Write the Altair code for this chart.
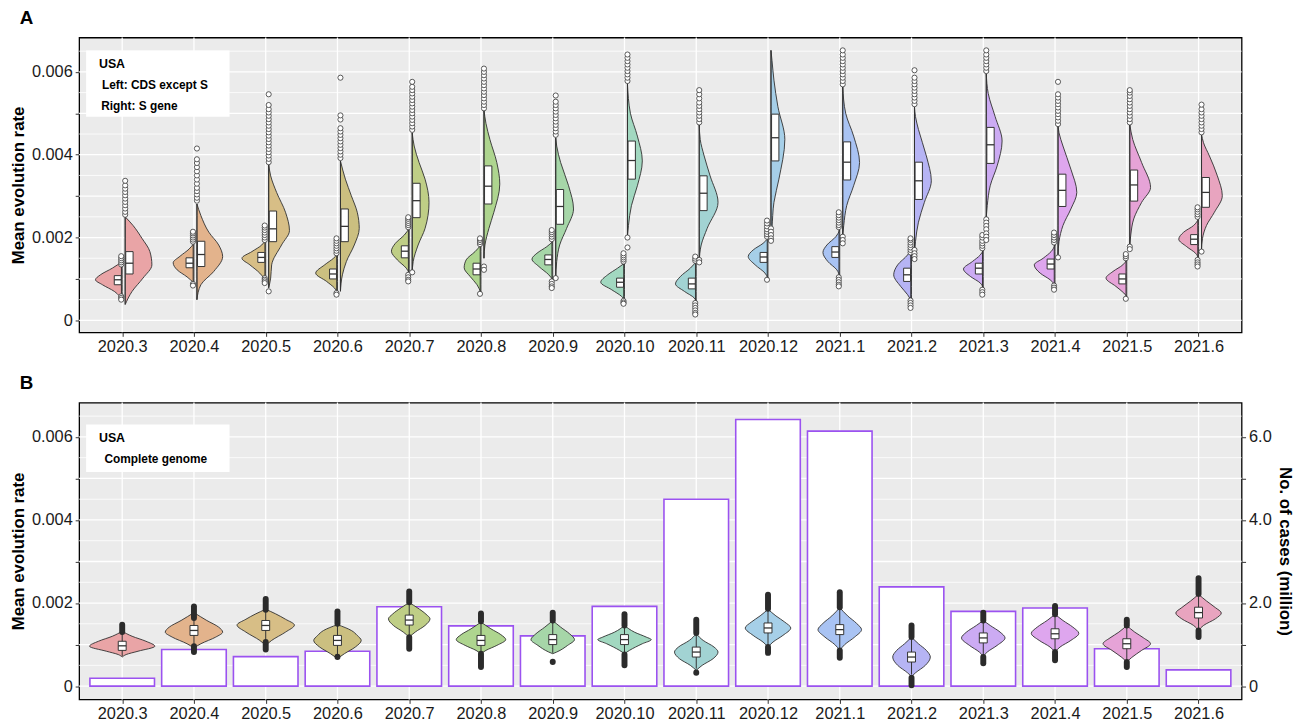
import altair as alt
import pandas as pd

FONT = "Liberation Sans"

MONTHS = ["2020.3", "2020.4", "2020.5", "2020.6", "2020.7", "2020.8", "2020.9", "2020.10",
          "2020.11", "2020.12", "2021.1", "2021.2", "2021.3", "2021.4", "2021.5", "2021.6"]

FILLS = ["#E9A4A6", "#E3B38C", "#D7BE86", "#CBBF80", "#BFCE86", "#AED58F", "#A6D6A8", "#A2D8C0",
         "#A2D3D3", "#A6CFE8", "#A9C3F3", "#B6B4F4", "#CCABF3", "#DEA6EE", "#E6A3D7", "#E8A4BF"]

# Monthly cases, millions
CASES_MILLION = [0.19, 0.88, 0.71, 0.84, 1.91, 1.45, 1.21, 1.92,
                 4.50, 6.42, 6.14, 2.39, 1.80, 1.88, 0.90, 0.39]

# Violin outlines: (rate x 1e-3, kernel density) from low to high rate
CDS_OUTLINE = [
    [(0.50, 0), (0.70, 8), (0.86, 20), (0.98, 27), (1.10, 22), (1.26, 10), (1.42, 0)],
    [(0.90, 0), (1.05, 7), (1.22, 17), (1.39, 21), (1.55, 14), (1.72, 5), (1.86, 0)],
    [(0.94, 0), (1.14, 6), (1.34, 16), (1.50, 24), (1.66, 14), (1.82, 4), (2.00, 0)],
    [(0.68, 0), (0.78, 3), (0.94, 11), (1.14, 22), (1.34, 13), (1.50, 4), (1.60, 0)],
    [(1.14, 0), (1.26, 3), (1.46, 12), (1.67, 18), (1.86, 14), (2.06, 5), (2.22, 0)],
    [(0.66, 0), (0.86, 4), (1.06, 11), (1.27, 17), (1.46, 15), (1.66, 6), (1.82, 0)],
    [(0.98, 0), (1.10, 4), (1.30, 14), (1.48, 21), (1.62, 16), (1.78, 6), (1.90, 0)],
    [(0.50, 0), (0.58, 3), (0.74, 13), (0.92, 24), (1.10, 17), (1.26, 7), (1.38, 0)],
    [(0.46, 0), (0.54, 2), (0.70, 12), (0.88, 21), (1.06, 16), (1.26, 6), (1.42, 0)],
    [(1.02, 0), (1.14, 3), (1.34, 13), (1.54, 20), (1.70, 15), (1.86, 5), (1.98, 0)],
    [(1.06, 0), (1.22, 3), (1.42, 12), (1.64, 17), (1.82, 13), (2.02, 4), (2.18, 0)],
    [(0.46, 0), (0.62, 4), (0.82, 11), (1.10, 18), (1.34, 14), (1.58, 4), (1.74, 0)],
    [(0.78, 0), (0.90, 3), (1.06, 13), (1.24, 20), (1.42, 11), (1.58, 3), (1.70, 0)],
    [(0.86, 0), (0.98, 5), (1.14, 15), (1.34, 21), (1.50, 12), (1.66, 4), (1.82, 0)],
    [(0.58, 0), (0.66, 3), (0.82, 11), (1.02, 21), (1.18, 14), (1.34, 4), (1.46, 0)],
    [(1.50, 0), (1.62, 3), (1.78, 12), (1.96, 20), (2.13, 15), (2.29, 5), (2.45, 0)],
]

S_OUTLINE = [
    [(0.38, 0), (0.70, 7), (1.02, 18), (1.34, 27), (1.66, 25), (1.98, 17), (2.29, 8), (2.50, 0)],
    [(0.50, 0), (0.86, 4), (1.18, 17), (1.54, 26), (1.82, 22), (2.13, 12), (2.53, 4), (2.81, 0)],
    [(0.78, 0), (1.02, 2), (1.34, 3), (1.82, 13), (2.17, 21), (2.61, 17), (3.09, 8), (3.49, 2), (3.77, 0)],
    [(0.70, 0), (1.10, 2), (1.42, 6), (1.82, 14), (2.22, 19), (2.61, 17), (3.01, 11), (3.41, 5), (3.85, 0)],
    [(1.14, 0), (1.42, 1), (1.82, 6), (2.22, 13), (2.85, 17), (3.41, 13), (3.81, 7), (4.21, 2), (4.53, 0)],
    [(1.50, 0), (1.82, 1), (2.22, 5), (2.61, 10), (3.29, 16), (3.81, 13), (4.37, 6), (4.76, 2), (5.08, 0)],
    [(1.02, 0), (1.42, 1), (1.82, 4), (2.22, 11), (2.69, 18), (3.25, 13), (3.81, 5), (4.21, 1), (4.41, 0)],
    [(2.02, 0), (2.29, 1), (2.77, 4), (3.25, 10), (3.85, 15), (4.45, 10), (5.00, 3), (5.72, 0)],
    [(1.42, 0), (1.82, 2), (2.22, 8), (2.85, 19), (3.49, 11), (3.97, 5), (4.37, 1), (4.73, 0)],
    [(1.90, 0), (2.22, 1), (2.85, 3), (3.41, 8), (4.37, 14), (5.16, 7), (5.80, 3), (6.28, 1), (6.52, 0)],
    [(2.06, 0), (2.29, 1), (2.77, 4), (3.25, 11), (3.81, 17), (4.45, 11), (5.00, 3), (5.64, 0)],
    [(1.50, 0), (1.90, 1), (2.37, 4), (2.85, 10), (3.37, 17), (3.97, 12), (4.61, 4), (4.92, 1), (5.16, 0)],
    [(2.49, 0), (2.77, 1), (3.25, 4), (3.73, 11), (4.33, 16), (4.92, 9), (5.48, 2), (5.96, 0)],
    [(1.58, 0), (1.90, 1), (2.29, 5), (2.69, 13), (3.09, 19), (3.65, 13), (4.21, 5), (4.53, 1), (4.69, 0)],
    [(1.82, 0), (2.06, 1), (2.45, 4), (2.85, 12), (3.21, 21), (3.81, 12), (4.37, 3), (4.73, 0)],
    [(1.70, 0), (1.98, 1), (2.29, 5), (2.61, 13), (3.01, 21), (3.49, 16), (3.97, 8), (4.29, 2), (4.49, 0)],
]

GENOME_OUTLINE = [
    [(0.70, 0), (0.76, 4), (0.84, 16), (0.96, 33), (1.08, 24), (1.20, 10), (1.32, 0)],
    [(0.92, 0), (1.02, 7), (1.18, 22), (1.30, 29), (1.42, 25), (1.58, 13), (1.77, 0)],
    [(0.98, 0), (1.10, 6), (1.30, 20), (1.47, 29), (1.61, 20), (1.74, 10), (1.85, 0)],
    [(0.66, 0), (0.78, 7), (0.94, 18), (1.10, 24), (1.22, 20), (1.34, 14), (1.48, 0)],
    [(1.18, 0), (1.30, 6), (1.46, 16), (1.62, 21), (1.73, 17), (1.89, 8), (2.01, 0)],
    [(0.78, 0), (0.86, 5), (0.98, 16), (1.12, 25), (1.24, 20), (1.38, 10), (1.54, 0)],
    [(0.78, 0), (0.82, 4), (0.98, 15), (1.12, 22), (1.26, 17), (1.42, 8), (1.58, 0)],
    [(0.78, 0), (0.86, 5), (1.02, 18), (1.12, 27), (1.18, 22), (1.30, 10), (1.46, 0)],
    [(0.38, 0), (0.50, 6), (0.66, 17), (0.82, 22), (0.94, 18), (1.10, 7), (1.26, 0)],
    [(0.94, 0), (1.06, 5), (1.22, 15), (1.40, 23), (1.54, 17), (1.69, 8), (1.85, 0)],
    [(0.86, 0), (1.00, 5), (1.18, 15), (1.36, 22), (1.51, 17), (1.69, 8), (1.89, 0)],
    [(0.23, 0), (0.32, 4), (0.50, 14), (0.70, 19), (0.86, 15), (1.02, 7), (1.18, 0)],
    [(0.72, 0), (0.82, 4), (0.98, 14), (1.16, 22), (1.30, 17), (1.46, 7), (1.58, 0)],
    [(0.82, 0), (0.94, 5), (1.10, 16), (1.27, 24), (1.42, 18), (1.58, 8), (1.73, 0)],
    [(0.58, 0), (0.69, 5), (0.86, 15), (1.02, 24), (1.16, 17), (1.30, 8), (1.46, 0)],
    [(1.34, 0), (1.46, 5), (1.62, 17), (1.76, 23), (1.89, 17), (2.05, 8), (2.21, 0)],
]

# Box statistics (x 1e-3): q1, median, q3, lower whisker, upper whisker
CDS_BOX = [
    (0.86, 0.98, 1.08, 0.60, 1.30), (1.27, 1.38, 1.51, 0.92, 1.86), (1.40, 1.52, 1.64, 1.06, 1.90),
    (1.00, 1.12, 1.24, 0.72, 1.58), (1.51, 1.67, 1.80, 1.14, 2.20), (1.10, 1.24, 1.38, 0.70, 1.80),
    (1.34, 1.47, 1.58, 0.98, 1.92), (0.80, 0.92, 1.02, 0.50, 1.38), (0.76, 0.88, 1.02, 0.46, 1.40),
    (1.40, 1.53, 1.64, 1.02, 1.98), (1.52, 1.65, 1.78, 1.08, 2.20), (0.94, 1.10, 1.26, 0.52, 1.60),
    (1.12, 1.26, 1.38, 0.78, 1.70), (1.24, 1.36, 1.48, 0.88, 1.84), (0.88, 1.00, 1.12, 0.58, 1.46),
    (1.83, 1.96, 2.07, 1.50, 2.45),
]
S_BOX = [
    (1.12, 1.38, 1.66, 0.40, 2.50), (1.30, 1.59, 1.91, 0.50, 2.81), (1.90, 2.21, 2.64, 0.80, 3.77),
    (1.90, 2.27, 2.69, 0.72, 3.85), (2.48, 2.89, 3.31, 1.18, 4.53), (2.81, 3.24, 3.73, 1.50, 5.08),
    (2.32, 2.75, 3.16, 1.06, 4.41), (3.41, 3.86, 4.33, 2.06, 5.72), (2.65, 3.07, 3.49, 1.50, 4.73),
    (3.85, 4.41, 4.98, 2.30, 6.52), (3.39, 3.82, 4.31, 2.06, 5.64), (2.92, 3.37, 3.82, 1.52, 5.16),
    (3.79, 4.24, 4.66, 2.49, 5.96), (2.75, 3.14, 3.53, 1.58, 4.69), (2.88, 3.27, 3.63, 1.82, 4.73),
    (2.73, 3.09, 3.45, 1.70, 4.49),
]
GENOME_BOX = [
    (0.86, 0.97, 1.08, 0.72, 1.28), (1.22, 1.34, 1.46, 0.98, 1.62), (1.34, 1.46, 1.58, 1.08, 1.82),
    (0.98, 1.10, 1.22, 0.72, 1.48), (1.47, 1.59, 1.71, 1.20, 1.98), (0.98, 1.10, 1.22, 0.80, 1.52),
    (1.00, 1.12, 1.24, 0.80, 1.56), (1.00, 1.12, 1.24, 0.80, 1.44), (0.70, 0.82, 0.94, 0.42, 1.24),
    (1.28, 1.40, 1.52, 0.96, 1.84), (1.24, 1.36, 1.48, 0.90, 1.86), (0.58, 0.70, 0.82, 0.28, 1.16),
    (1.04, 1.16, 1.28, 0.74, 1.56), (1.14, 1.26, 1.38, 0.84, 1.70), (0.90, 1.02, 1.14, 0.60, 1.44),
    (1.64, 1.77, 1.90, 1.36, 2.20),
]

# Outlying samples (x 1e-3)
CDS_OUTLIERS = [
    [1.35, 1.40, 1.45, 1.50, 1.55, 0.58, 0.54, 0.50],
    [1.90, 1.95, 2.00, 2.05, 2.10, 2.14, 0.88, 0.84],
    [1.94, 2.00, 2.06, 2.12, 2.18, 2.24, 2.29, 1.02, 0.98, 0.94, 0.90],
    [1.62, 1.68, 1.74, 1.80, 1.86, 1.92, 1.98, 0.66, 0.62],
    [2.25, 2.30, 2.35, 2.40, 2.45, 2.49, 1.10, 1.04, 0.98, 0.94],
    [1.84, 1.89, 1.94, 1.98, 0.64],
    [1.96, 2.02, 2.08, 2.13, 2.18, 0.94, 0.88, 0.82, 0.78],
    [1.42, 1.47, 1.52, 1.57, 1.62, 0.47, 0.43, 0.40],
    [1.44, 1.49, 1.54, 0.42, 0.36, 0.30, 0.24, 0.18, 0.14],
    [2.02, 2.08, 2.14, 2.20, 2.27, 2.34, 2.41, 0.98],
    [2.25, 2.30, 2.36, 2.42, 2.48, 2.54, 2.61, 1.04, 0.98, 0.92, 0.86, 0.82],
    [1.64, 1.70, 1.76, 1.82, 1.88, 1.94, 1.98, 0.48, 0.42, 0.36, 0.30],
    [1.74, 1.80, 1.86, 1.92, 2.00, 2.06, 0.74, 0.68, 0.62],
    [1.88, 1.94, 2.00, 2.06, 2.12, 0.84, 0.79, 0.74],
    [1.50, 1.55, 1.60, 0.52],
    [2.50, 2.56, 2.62, 2.68, 2.73, 1.46, 1.40, 1.35, 1.30],
]
S_OUTLIERS = [
    [2.55, 2.62, 2.70, 2.78, 2.86, 2.94, 3.02, 3.10, 3.18, 3.26, 3.37],
    [2.89, 2.96, 3.04, 3.12, 3.20, 3.30, 3.40, 3.50, 3.60, 3.70, 3.80, 3.89, 4.15],
    [3.82, 3.90, 3.98, 4.06, 4.14, 4.22, 4.30, 4.38, 4.46, 4.54, 4.62, 4.70, 4.78, 4.86,
     4.94, 5.02, 5.10, 5.20, 5.46, 0.70],
    [3.92, 4.00, 4.08, 4.16, 4.24, 4.32, 4.40, 4.48, 4.56, 4.64, 4.85, 4.95, 5.86],
    [4.60, 4.68, 4.76, 4.84, 4.92, 5.00, 5.08, 5.16, 5.24, 5.32, 5.40, 5.48, 5.56, 5.64, 5.76, 1.16],
    [5.12, 5.20, 5.28, 5.36, 5.44, 5.52, 5.60, 5.68, 5.76, 5.84, 5.92, 6.00, 6.08, 1.30, 1.22],
    [4.48, 4.56, 4.64, 4.72, 4.80, 4.88, 4.96, 5.04, 5.12, 5.20, 5.28, 5.43, 1.02],
    [5.78, 5.86, 5.94, 6.02, 6.10, 6.18, 6.26, 6.34, 6.42, 2.00, 1.76],
    [4.78, 4.86, 4.94, 5.02, 5.10, 5.18, 5.26, 5.36, 5.46, 5.56, 1.46, 1.40],
    [2.22, 2.14, 2.06, 1.98, 1.92],
    [5.70, 5.78, 5.86, 5.94, 6.02, 6.10, 6.18, 6.26, 6.34, 6.42, 6.52, 2.02, 1.94, 1.86],
    [5.22, 5.30, 5.38, 5.46, 5.54, 5.62, 5.70, 5.78, 5.86, 6.04, 1.70, 1.62, 1.55, 1.48],
    [6.02, 6.10, 6.18, 6.26, 6.34, 6.42, 6.52, 2.44, 2.36, 2.28, 2.20, 2.10, 2.02, 1.94],
    [4.74, 4.82, 4.90, 4.98, 5.06, 5.14, 5.22, 5.30, 5.38, 5.46, 5.76, 1.52],
    [4.78, 4.86, 4.94, 5.02, 5.10, 5.18, 5.26, 5.34, 5.42, 5.50, 5.56, 1.78, 1.72],
    [4.54, 4.62, 4.70, 4.78, 4.86, 4.94, 5.02, 5.10, 5.21, 1.66],
]
# Complete genome: densely packed outliers, given as (from, to) runs above / below the whiskers
GENOME_OUTLIER_HIGH = [(1.30, 1.48), (1.64, 1.92), (1.84, 2.10), (1.50, 1.80), (2.02, 2.28),
                       (1.56, 1.75), (1.58, 1.77), (1.46, 1.73), (1.28, 1.60), (1.86, 2.20),
                       (1.90, 2.26), (1.18, 1.46), (1.58, 1.77), (1.73, 1.93), (1.46, 1.60),
                       (2.22, 2.60)]
GENOME_OUTLIER_LOW = [None, (0.82, 0.96), (0.88, 1.06), (0.70, 0.71), (0.90, 1.18),
                      (0.46, 0.78), (0.58, 0.59), (0.50, 0.76), (0.32, 0.33), (0.80, 0.94),
                      (0.68, 0.86), (0.02, 0.20), (0.55, 0.70), (0.62, 0.82), (0.46, 0.58),
                      (1.18, 1.34)]

# ---------------------------------------------------------------- geometry
MILLI = 0.001
PLOT_W = 1175
X_DOMAIN = [0.4, 16.6]
PX = (X_DOMAIN[1] - X_DOMAIN[0]) / PLOT_W   # x units per screen pixel
YA_DOMAIN = [-0.00029, 0.00683]
YB_DOMAIN = [-0.00032, 0.006826]
CASE_DOMAIN = [v * 1000 for v in YB_DOMAIN]

XS = alt.Scale(domain=X_DOMAIN, nice=False, zero=False)
YSA = alt.Scale(domain=YA_DOMAIN, nice=False, zero=False)
YSB = alt.Scale(domain=YB_DOMAIN, nice=False, zero=False)
CS = alt.Scale(domain=MONTHS, range=FILLS)
INK = "#333333"

month_expr = "[" + ",".join(f"'{m}'" for m in MONTHS) + "][round(datum.value) - 1]"
rate_label_expr = ("round(datum.value * 1000) % 2 != 0 ? '' : "
                   "(round(datum.value * 1000) == 0 ? '0' : format(datum.value, '.3f'))")

X_AXIS = alt.Axis(values=list(range(1, 17)), labelExpr=month_expr, title=None,
                  labelPadding=2, tickSize=4)
Y_AXIS = alt.Axis(values=[k * MILLI for k in range(7)], labelExpr=rate_label_expr,
                  title="Mean evolution rate", titlePadding=4, labelPadding=3, tickSize=4)


def xq(field):
    return alt.X(field, type="quantitative", scale=XS, axis=X_AXIS)


def yq(field, yscale, axis):
    return alt.Y(field, type="quantitative", scale=yscale, axis=axis)


def violin_frame(outlines, kind, offset_px):
    rows = []
    for i, pts in enumerate(outlines):
        base = i + 1 + offset_px * PX
        for k, (r, d) in enumerate(pts):
            if kind == "left":
                x1, x2 = base - d * PX, base
            elif kind == "right":
                x1, x2 = base, base + d * PX
            else:
                x1, x2 = base - d * PX, base + d * PX
            rows.append(dict(vid=f"{kind}{i}", month=MONTHS[i], rate=r * MILLI, x1=x1, x2=x2))
    return pd.DataFrame(rows)


def box_frame(stats, left_px, right_px, whisker_px):
    rows = []
    for i, (q1, med, q3, lo, hi) in enumerate(stats):
        c = i + 1
        rows.append(dict(month=MONTHS[i], q1=q1 * MILLI, med=med * MILLI, q3=q3 * MILLI,
                         lo=lo * MILLI, hi=hi * MILLI, bx1=c + left_px * PX,
                         bx2=c + right_px * PX, wx=c + whisker_px * PX))
    return pd.DataFrame(rows)


def outlier_frame(values, offset_px):
    rows = []
    for i, vals in enumerate(values):
        for v in vals:
            rows.append(dict(month=MONTHS[i], x=i + 1 + offset_px * PX, rate=v * MILLI))
    return pd.DataFrame(rows)


def background(yscale, axis):
    minor = pd.DataFrame({"g": [(2 * k + 1) * 0.0005 for k in range(7)]})
    major = pd.DataFrame({"g": [k * MILLI for k in range(7)]})
    cats = pd.DataFrame({"c": list(range(1, 17))})
    l1 = alt.Chart(minor).mark_rule(color="white", strokeWidth=0.8).encode(y=yq("g", yscale, axis))
    l2 = alt.Chart(major).mark_rule(color="white", strokeWidth=1.3).encode(y=yq("g", yscale, axis))
    l3 = alt.Chart(cats).mark_rule(color="white", strokeWidth=1.3).encode(x=xq("c"))
    return [l1, l2, l3]


def note(yscale, axis, y_top, y_bottom, lines):
    box = pd.DataFrame({"x1": [0.497], "x2": [2.496], "y1": [y_bottom], "y2": [y_top]})
    txt = pd.DataFrame(lines, columns=["x", "y", "t", "size"])
    rect = alt.Chart(box).mark_rect(fill="white").encode(
        x=xq("x1"), x2="x2:Q", y=yq("y1", yscale, axis), y2="y2:Q")
    text = alt.Chart(txt).mark_text(align="left", baseline="middle", fontWeight="bold",
                                    font=FONT, color="black").encode(
        x=xq("x"), y=yq("y", yscale, axis),
        text="t:N", size=alt.Size("size:Q", scale=None, legend=None))
    return [rect, text]


def violins(df, yscale, axis):
    return alt.Chart(df).mark_area(orient="horizontal", interpolate="monotone",
                                   stroke="#2e2e2e", strokeWidth=0.9, fillOpacity=1).encode(
        x=xq("x1"), x2="x2:Q", y=yq("rate", yscale, axis), detail="vid:N",
        fill=alt.Fill("month:N", scale=CS, legend=None))


def boxes(df, yscale, axis):
    whisk = alt.Chart(df).mark_rule(color=INK, strokeWidth=1.0).encode(
        x=xq("wx"), y=yq("lo", yscale, axis), y2="hi:Q")
    rect = alt.Chart(df).mark_rect(fill="white", stroke=INK, strokeWidth=1.0).encode(
        x=xq("bx1"), x2="bx2:Q", y=yq("q1", yscale, axis), y2="q3:Q")
    med = alt.Chart(df).mark_rule(color=INK, strokeWidth=1.3).encode(
        x=xq("bx1"), x2="bx2:Q", y=yq("med", yscale, axis))
    return [whisk, rect, med]


# ---------------------------------------------------------------- panel A
half_violins = pd.concat([violin_frame(CDS_OUTLINE, "left", 0.0),
                          violin_frame(S_OUTLINE, "right", 3.0)], ignore_index=True)
cds_box = box_frame(CDS_BOX, -8.0, -1.0, -0.8)
s_box = box_frame(S_BOX, 3.6, 11.0, 3.0)
points = pd.concat([outlier_frame(CDS_OUTLIERS, -1.0), outlier_frame(S_OUTLIERS, 3.0)],
                   ignore_index=True)

outlier_layer = alt.Chart(points).mark_point(
    shape="circle", filled=True, fill="white", stroke=INK, strokeWidth=0.8,
    size=27, opacity=1).encode(x=xq("x"), y=yq("rate", YSA, Y_AXIS))

panel_a = alt.layer(
    *background(YSA, Y_AXIS),
    *note(YSA, Y_AXIS, 0.006516, 0.004916, [
        (0.676, 0.006182, "USA", 12.5),
        (0.717, 0.005680, "Left: CDS except S", 12),
        (0.707, 0.005178, "Right: S gene", 12),
    ]),
    violins(half_violins, YSA, Y_AXIS),
    *boxes(cds_box, YSA, Y_AXIS),
    *boxes(s_box, YSA, Y_AXIS),
    outlier_layer,
).properties(
    width=PLOT_W, height=298,
    title=alt.TitleParams("A", anchor="start", frame="group", dx=-60, fontSize=19,
                          fontWeight="bold", font=FONT, offset=9, color="black"),
)

# ---------------------------------------------------------------- panel B
genome = violin_frame(GENOME_OUTLINE, "full", 0.0)
genome_box = box_frame(GENOME_BOX, -4.0, 4.0, 0.0)

runs = []
for i in range(16):
    for run in (GENOME_OUTLIER_HIGH[i], GENOME_OUTLIER_LOW[i]):
        if run is not None:
            runs.append(dict(x=i + 1, a=run[0] * MILLI, b=run[1] * MILLI))
runs = pd.DataFrame(runs)

cases = pd.DataFrame({
    "month": MONTHS,
    "cases": CASES_MILLION,
    "base": [0.0] * 16,
    "x1": [i + 1 - 0.45 for i in range(16)],
    "x2": [i + 1 + 0.45 for i in range(16)],
})

CASE_AXIS = alt.Axis(
    orient="right", values=list(range(7)),
    labelExpr="datum.value == 0 ? '0' : (round(datum.value) % 2 == 0 ? format(datum.value, '.1f') : '')",
    title="No. of cases (million)", titlePadding=4, labelPadding=3, tickSize=4)

bars = alt.Chart(cases).mark_rect(fill="white", stroke="#9B52F0", strokeWidth=1.6).encode(
    x=xq("x1"), x2="x2:Q",
    y=yq("cases", alt.Scale(domain=CASE_DOMAIN, nice=False, zero=False), CASE_AXIS),
    y2="base:Q",
)

b_whisk, b_rect, b_med = boxes(genome_box, YSB, None)
run_layer = alt.Chart(runs).mark_rule(color="#2b2b2b", strokeWidth=6, strokeCap="round").encode(
    x=xq("x"), y=yq("a", YSB, None), y2="b:Q")

b_back = alt.layer(
    *background(YSB, Y_AXIS),
    *note(YSB, Y_AXIS, 0.006298, 0.005155, [
        (0.676, 0.005964, "USA", 12.5),
        (0.752, 0.005460, "Complete genome", 12),
    ]),
)
b_front = alt.layer(violins(genome, YSB, None), b_whisk, run_layer, b_rect, b_med)

panel_b = alt.layer(b_back, bars, b_front).resolve_scale(y="independent").properties(
    width=PLOT_W, height=300,
    title=alt.TitleParams("B", anchor="start", frame="group", dx=-60, fontSize=19,
                          fontWeight="bold", font=FONT, offset=9, color="black"),
)

chart = alt.vconcat(panel_a, panel_b, spacing=17).resolve_scale(
    y="independent"
).properties(
    padding={"left": 9, "top": 4, "right": 4, "bottom": 4},
).configure_view(
    fill="#EBEBEB", stroke="black", strokeWidth=1.3,
).configure_axis(
    domain=False, grid=False, labelFont=FONT, titleFont=FONT, labelFontSize=16.5,
    labelColor="#1a1a1a", tickColor=INK, titleFontSize=17, titleFontWeight="bold",
    titleColor="black",
).configure_title(font=FONT)

chart.save("out.html", embed_options={"renderer": "svg", "actions": False})
